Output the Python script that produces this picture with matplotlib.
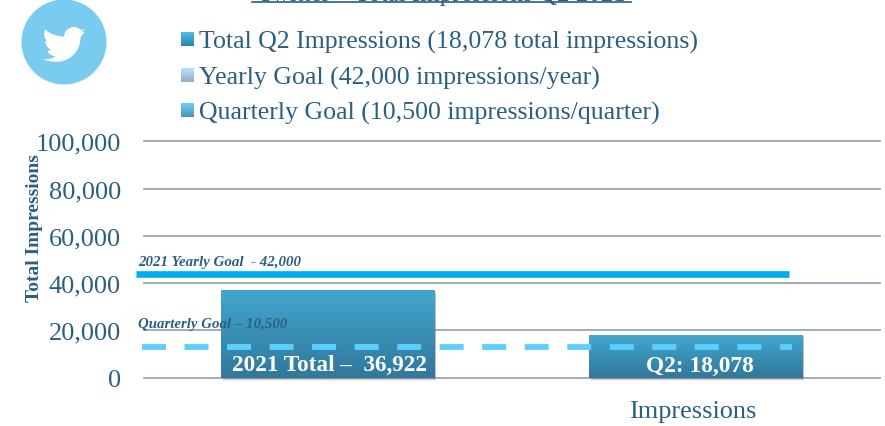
"""
Twitter total impressions chart, Q2.

Output:
    out.png
"""

import numpy as np
import matplotlib

matplotlib.use("Agg")

import matplotlib.pyplot as plt

from matplotlib.patches import Circle, PathPatch
from matplotlib.path import Path
from matplotlib.transforms import ScaledTranslation


# ---------------------------------------------------------------------
# Data
# ---------------------------------------------------------------------

categories = ["", "Impressions"]
totals = [36922, 18078]
bar_labels = ["2021 Total \u2013  36,922", "Q2: 18,078"]

y_ticks = [0, 20000, 40000, 60000, 80000, 100000]
y_tick_labels = ["0", "20,000", "40,000", "60,000", "80,000", "100,000"]

# goal lines sit a little above their stated values in the source picture
yearly_goal_line = [43800, 43800]
yearly_goal_x = [-0.522, 1.252]
quarterly_goal_line = [13000, 13000]
quarterly_goal_x = [-0.505, 1.26]

legend_labels = [
    "Total Q2 Impressions (18,078 total impressions)",
    "Yearly Goal (42,000 impressions/year)",
    "Quarterly Goal (10,500 impressions/quarter)",
]
legend_colors = [
    ("#4CBDE9", "#2F86A9"),
    ("#B7E3F9", "#93ACC3"),
    ("#6DD1FB", "#4C92B4"),
]

TITLE = "Twitter \u2013 Total Impressions Q2 2021"

# ---------------------------------------------------------------------
# Style
# ---------------------------------------------------------------------

W, H = 885, 427
SERIF = "Liberation Serif"
TEXT_COLOR = "#2B5F82"
GRID_COLOR = "#9AA6B6"
BAR_TOP = "#43A6CE"
BAR_BOTTOM = "#31789C"

plt.rcParams["font.family"] = SERIF


def gradient(top, bottom):
    rgb_top = np.array(matplotlib.colors.to_rgb(top))
    rgb_bottom = np.array(matplotlib.colors.to_rgb(bottom))
    t = np.linspace(0, 1, 64)[:, None, None]
    return rgb_top * (1 - t) + rgb_bottom * t


def draw_bird(overlay):
    pts = [
        (209, 88),
        (205, 92), (201, 93), (197, 93),
        (190, 85), (181, 84), (175, 84),
        (158, 85), (146, 100), (148, 113),
        (125, 112), (105, 105), (90, 91),
        (85, 105), (88, 120), (98, 128),
        (95, 128), (92, 127), (90, 125),
        (91, 138), (100, 150), (109, 153),
        (105, 155), (101, 155), (97, 155),
        (100, 165), (112, 172), (122, 172),
        (110, 180), (97, 182), (84, 180),
        (100, 188), (118, 189), (135, 188),
        (175, 180), (197, 150), (197, 112),
        (203, 108), (206, 103), (209, 97),
        (205, 100), (200, 100), (196, 101),
        (203, 97), (207, 93), (209, 88),
    ]
    verts = [(15 + x / 3, y / 3) for x, y in pts]
    codes = [Path.MOVETO] + [Path.CURVE4] * (len(verts) - 1)
    overlay.add_patch(PathPatch(Path(verts, codes), fc="white", ec="none"))


fig = plt.figure(figsize=(W / 100, H / 100), dpi=100)

# ---------------------------------------------------------------------
# Chart
# ---------------------------------------------------------------------

ax = fig.add_axes([144 / W, 1 - 378.7 / H, 736 / W, 236.4 / H])
x = np.arange(len(categories))

ax.set_xlim(-0.5, 1.5)
ax.set_ylim(0, 100000)
ax.set_yticks(y_ticks)
ax.set_yticklabels(y_tick_labels, fontsize=19, color=TEXT_COLOR)
ax.set_xticks(x)
ax.set_xticklabels(categories, fontsize=18.9, color=TEXT_COLOR)
ax.tick_params(length=0)
ax.tick_params(axis="y", pad=16.5)
ax.tick_params(axis="x", pad=16)
ax.yaxis.grid(True, color=GRID_COLOR, linewidth=1.3, clip_on=False)
ax.set_axisbelow(True)
for spine in ax.spines.values():
    spine.set_visible(False)

# the category label sits slightly left of the bar centre
shift = ScaledTranslation(-3 / 100, 0, fig.dpi_scale_trans)
for label in ax.get_xticklabels():
    label.set_transform(label.get_transform() + shift)

BAR_WIDTH = 0.58

# soft shadow under each bar
for step, alpha in zip([1400, 900, 400], [0.10, 0.14, 0.18]):
    ax.bar(x + 0.004, totals, BAR_WIDTH, bottom=-step, color="#555555",
           alpha=alpha, linewidth=0, zorder=1.5, clip_on=False)

bars = ax.bar(x, totals, BAR_WIDTH, color=BAR_TOP, linewidth=0, zorder=2)
for bar in bars:
    left, width = bar.get_x(), bar.get_width()
    img = ax.imshow(
        gradient(BAR_TOP, BAR_BOTTOM),
        extent=(left, left + width, 0, bar.get_height()),
        aspect="auto",
        zorder=2.1,
    )
    img.set_clip_path(bar)
ax.set_xlim(-0.5, 1.5)
ax.set_ylim(0, 100000)

ax.plot(yearly_goal_x, yearly_goal_line, color="#00AEEF", linewidth=4.8,
        solid_capstyle="butt", zorder=3, clip_on=False)
ax.plot(quarterly_goal_x, quarterly_goal_line, color="#5BCFFF", linewidth=4.2,
        dashes=(4.11, 3.18), dash_capstyle="butt", zorder=3, clip_on=False)

# ---------------------------------------------------------------------
# Overlay in pixel coordinates for logo, legend and free text
# ---------------------------------------------------------------------

overlay = fig.add_axes([0, 0, 1, 1], facecolor="none", zorder=5)
overlay.axis("off")

overlay.add_patch(Circle((64, 43), 42.5, fc="#7ACBF0", ec="none"))
draw_bird(overlay)

for (top, bottom), label, y in zip(legend_colors, legend_labels, [40, 76, 111]):
    overlay.imshow(gradient(top, bottom), aspect="auto",
                   extent=(181, 194, y + 7, y - 7))
    overlay.text(199, y + 2, label, fontsize=18.6, color=TEXT_COLOR, va="center")

overlay.text(441.5, 1, TITLE, fontsize=18, color=TEXT_COLOR, ha="center", va="baseline")
overlay.plot([252, 631], [3, 3], color=TEXT_COLOR, linewidth=1.2)

overlay.text(35, 228, "Total Impressions", rotation=90, fontsize=14, fontweight="bold",
             color=TEXT_COLOR, ha="center", va="center")
overlay.text(138, 262.5, "2021 Yearly Goal  - 42,000", fontsize=10.8, fontweight="bold",
             fontstyle="italic", color=TEXT_COLOR, va="center")
overlay.text(138, 324.5, "Quarterly Goal \u2013 10,500", fontsize=10.7, fontweight="bold",
             fontstyle="italic", color=TEXT_COLOR, va="center")
overlay.text(330, 365, bar_labels[0], fontsize=16.7, fontweight="bold", color="white",
             ha="center", va="center")
overlay.text(699.5, 366.5, bar_labels[1], fontsize=16.8, fontweight="bold", color="white",
             ha="center", va="center")

overlay.set_xlim(0, W)
overlay.set_ylim(H, 0)

fig.savefig("out.png", dpi=100)
